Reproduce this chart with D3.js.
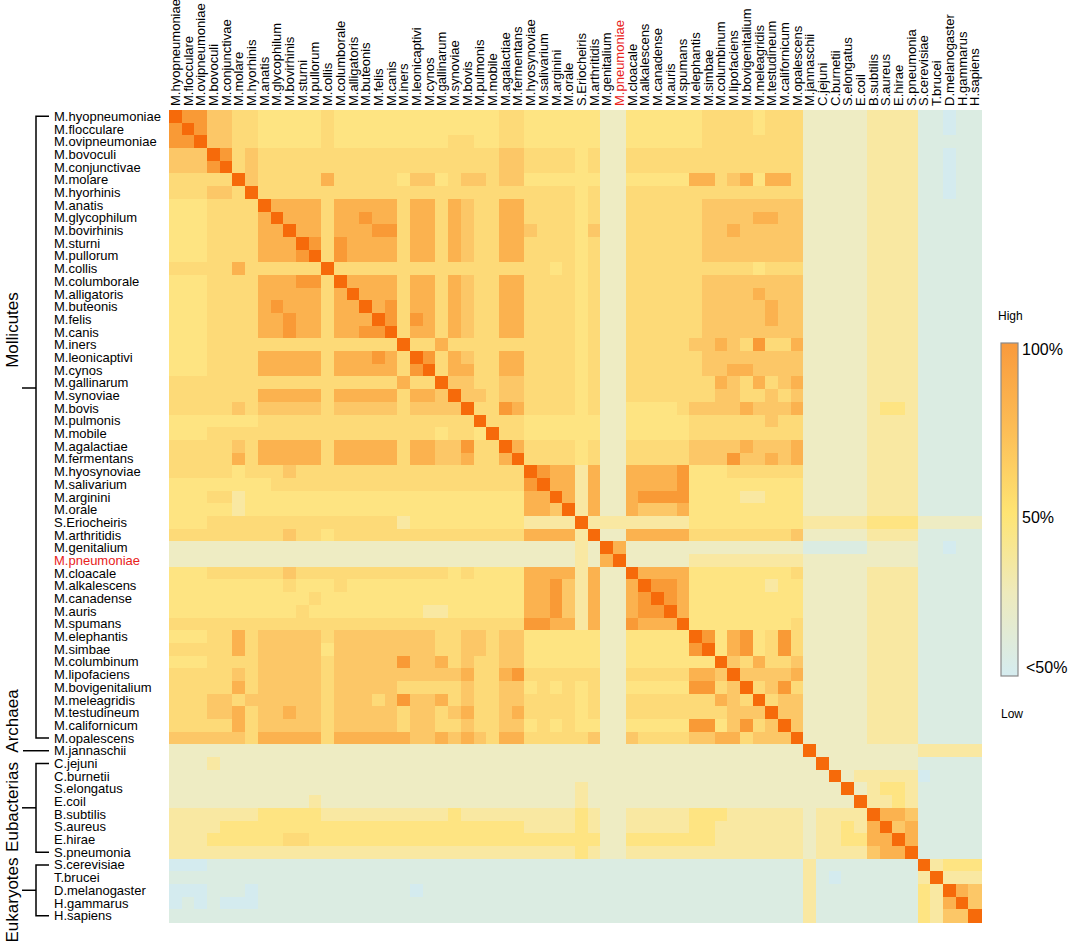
<!DOCTYPE html>
<html>
<head>
<meta charset="utf-8">
<script src="https://cdn.jsdelivr.net/npm/d3@7"></script>
<style>
  body { margin: 0; background: #fff; }
  text { font-family: "Liberation Sans", Arial, sans-serif; fill: #000; }
</style>
</head>
<body>
<script>
// species, in the order used for both axes
var species = [
  'M.hyopneumoniae', 'M.flocculare', 'M.ovipneumoniae', 'M.bovoculi', 'M.conjunctivae', 'M.molare',
  'M.hyorhinis', 'M.anatis', 'M.glycophilum', 'M.bovirhinis', 'M.sturni', 'M.pullorum', 'M.collis',
  'M.columborale', 'M.alligatoris', 'M.buteonis', 'M.felis', 'M.canis', 'M.iners', 'M.leonicaptivi',
  'M.cynos', 'M.gallinarum', 'M.synoviae', 'M.bovis', 'M.pulmonis', 'M.mobile', 'M.agalactiae',
  'M.fermentans', 'M.hyosynoviae', 'M.salivarium', 'M.arginini', 'M.orale', 'S.Eriocheiris',
  'M.arthritidis', 'M.genitalium', 'M.pneumoniae', 'M.cloacale', 'M.alkalescens', 'M.canadense',
  'M.auris', 'M.spumans', 'M.elephantis', 'M.simbae', 'M.columbinum', 'M.lipofaciens',
  'M.bovigenitalium', 'M.meleagridis', 'M.testudineum', 'M.californicum', 'M.opalescens',
  'M.jannaschii', 'C.jejuni', 'C.burnetii', 'S.elongatus', 'E.coil', 'B.subtilis', 'S.aureus',
  'E.hirae', 'S.pneumonia', 'S.cerevisiae', 'T.brucei', 'D.melanogaster', 'H.gammarus', 'H.sapiens'
];

var highlighted = ['M.pneumoniae'];

var groups = [
  { name: 'Mollicutes', first: 0, last: 49 },
  { name: 'Archaea', first: 50, last: 50 },
  { name: 'Eubacterias', first: 51, last: 58 },
  { name: 'Eukaryotes', first: 59, last: 63 }
];

// similarity level per cell, 0 (<50%) .. 9 (100%), one string per row, 8 columns per block
var similarity = [
  '98866554 44445444 44444444 44554444 44224444 44555545 55222223 33311011',
  '89866554 44445444 44444444 44554444 44224444 44555545 55222223 33311011',
  '88966554 44445444 44444455 44554444 44224444 44555555 55222223 33311111',
  '66698565 55555555 55555555 55665555 45225555 55555555 55222223 33311011',
  '66689565 55555555 55555555 55665555 45225555 55555555 55222223 33311011',
  '55555965 55557555 55466456 65664444 44224444 47756747 75222223 33311011',
  '55566595 55555555 55555555 55555555 45225555 55555555 55222223 33311011',
  '44455559 77775777 77577576 55775555 45225555 55666666 66222223 33311111',
  '44455557 97775778 77577576 55775555 45225555 55666677 66222223 33311111',
  '44455557 79775777 88577576 55776555 46225555 55667666 66222223 33311111',
  '44455557 77985877 77577576 55775555 45225555 55666666 66222223 33311111',
  '44455557 77895877 77577576 55775555 45225555 55666666 66222223 33311111',
  '55555755 55559555 55555555 55555545 45225555 55555545 55222223 33311111',
  '44455557 77885977 77577576 55775555 45225555 55666666 66222223 33311111',
  '44455557 77775797 77577576 55775555 45225555 55666676 66222223 33311111',
  '44455557 87775779 78577576 55775555 45225555 55666667 66222223 33311111',
  '44455557 78775777 98587576 55775555 45225555 55666667 66222223 33311111',
  '44455557 78775778 89577576 55775555 45225555 55666666 66222223 33311111',
  '44455555 55555555 55955755 55555555 45225555 56676585 57222223 33311111',
  '44455557 77775777 87598576 55775555 45225555 55666666 66222223 33311111',
  '44455557 77775777 77589577 55775555 45225555 55667766 66222223 33311111',
  '55555555 55555555 55755966 55665555 45225555 55576575 67222223 33311111',
  '55555557 77775777 77577696 65665555 45225555 55566556 56222223 33311111',
  '55555656 66665666 66566669 55875555 45224444 56666766 67222223 44311111',
  '44444445 55555555 55555555 95554444 44224444 45555556 55222223 33311111',
  '44455555 55555555 55555455 49554444 44224444 45555555 55222223 33311111',
  '55555657 77775777 77577668 55975555 45225555 56666766 67222223 33311111',
  '55555757 77775777 77577667 55795555 45225555 56668667 67222223 33311111',
  '55555455 56555555 55555555 55559877 37227777 84445555 55222223 33311111',
  '44444444 55555555 55555555 55558977 37227777 84444444 44222223 33311111',
  '44455344 44444444 44444444 44447797 37227888 84444334 44222223 33311111',
  '44444344 44444444 44444444 44447769 37227666 74444444 44222223 33311111',
  '44455555 55555555 55344444 44443333 93333333 34444444 44333334 44422222',
  '55555555 56554555 55555555 55557777 39227777 75555555 56222223 33311111',
  '22222222 22222222 22222222 22222222 32972222 22222222 22111112 22211011',
  '22222222 22222222 22222222 22222222 32792222 23333333 33222222 22211111',
  '44455555 56555555 55555545 44447777 37229777 74444444 45222223 33311111',
  '44444444 45444544 44444444 44447786 37227988 74444443 44222223 33311111',
  '44444444 44454444 44444444 44447786 37227898 74444444 44222223 33311111',
  '44444444 44544444 44443344 44447786 37227889 74444444 44222223 33311111',
  '55555555 55555555 55555555 55558877 37228777 94444444 45222223 33311111',
  '44455756 66665666 66666556 65664444 44224444 49847845 85222223 33311111',
  '55555756 66664666 66666556 65664444 44224444 48947845 85222223 33311111',
  '44455556 66665666 66866756 55664444 44224444 44496575 56222223 33311111',
  '55555656 66665666 66666667 55785555 55225555 57769666 67222223 33311111',
  '55555756 66665666 66555556 55664545 45224444 48856956 85222223 33311111',
  '55566566 66665666 56866756 55665555 45225555 55576595 66222223 33311111',
  '55566756 67665666 66566567 55675555 45225555 55556669 66222223 33311111',
  '55555756 66665666 66566556 55664545 44224444 48846856 96222223 33311111',
  '66666657 77775777 77766767 65775555 56226555 56677566 69222223 33311111',
  '22222222 22222222 22222222 22222222 22222222 22222222 22922222 22233333',
  '22232222 22222222 22222222 22222222 22222222 22222222 22292222 22211111',
  '22222222 22222222 22222222 22222222 22222222 22222222 22229233 33301111',
  '22222222 22222222 22222222 22222222 32222222 22222222 22222923 44311111',
  '22222222 22232222 22222222 22222222 32222222 22222222 22222293 34311111',
  '33333334 44443333 33333343 33333333 43223333 34443333 33233339 77611111',
  '33334444 44444444 44444444 44443333 43223333 34433333 33233437 96711111',
  '33344444 45544444 44444444 44444444 44224444 44433333 33233447 79711111',
  '33333333 33333333 33333333 33333333 43223333 33333333 33233336 77911111',
  '00011111 11111111 11111111 11111111 11111111 11111111 11311111 11193444',
  '11111111 11111111 11111111 11111111 11111111 11111111 11310111 11139333',
  '00011101 11111111 11101111 11111111 11111111 11111111 11311111 11143976',
  '01010001 11111111 11111111 11111111 11111111 11111111 11311111 11143796',
  '11111111 11111111 11111111 11111111 11111111 11111111 11311111 11143669'
];

var legendTicks = ['100%', '50%', '<50%'];

(function() {
    var cells = [];
    similarity.forEach(function(row, i) {
        row.replace(/ /g, '').split('').forEach(function(ch, j) {
            cells.push({ row: i, col: j, level: +ch });
        });
    });

    var svg = d3.select('body').append('svg')
            .attr('width', 1072)
            .attr('height', 944),
        mLeft = 169,
        mTop = 110,
        size = 812,
        xScale = d3.scaleBand().domain(d3.range(species.length)).range([mLeft, mLeft + size]),
        yScale = d3.scaleBand().domain(d3.range(species.length)).range([mTop, mTop + size]),
        bw = xScale.bandwidth(),
        cScale = d3.scaleLinear()
            .domain(d3.range(10))
            .range(['#d4ebef', '#dbece2', '#eeecc3', '#f9e8a2', '#fee482',
                    '#fdda78', '#fcc767', '#fbb24f', '#f99a36', '#f66a0a']),
        labelColor = function(d) { return highlighted.indexOf(d) >= 0 ? '#e8221b' : '#000'; };

    // heatmap cells
    svg.append('g')
        .attr('shape-rendering', 'crispEdges')
        .selectAll('rect')
        .data(cells)
        .enter()
        .append('rect')
        .attr('x', function(d) { return xScale(d.col); })
        .attr('y', function(d) { return yScale(d.row); })
        .attr('width', bw + 0.6)
        .attr('height', bw + 0.6)
        .attr('fill', function(d) { return cScale(d.level); });

    // column labels (rotated)
    svg.append('g')
        .selectAll('text')
        .data(species)
        .enter()
        .append('text')
        .attr('transform', function(d, i) { return 'translate(' + (xScale(i) + bw / 2) + ',' + (mTop - 4) + ') rotate(-90)'; })
        .attr('dy', '0.35em')
        .style('font-size', '13px')
        .style('fill', labelColor)
        .text(function(d) { return d; });

    // row labels
    svg.append('g')
        .selectAll('text')
        .data(species)
        .enter()
        .append('text')
        .attr('x', 54)
        .attr('y', function(d, i) { return yScale(i) + bw / 2; })
        .attr('dy', '0.35em')
        .style('font-size', '13px')
        .style('fill', labelColor)
        .text(function(d) { return d; });

    // group brackets
    var labelCenter = { Mollicutes: 330, Archaea: 721, Eubacterias: 807, Eukaryotes: 900 },
        tickAt = { Mollicutes: 388 },
        brackets = svg.append('g')
            .attr('stroke', '#000')
            .attr('stroke-width', 1.5)
            .attr('fill', 'none');

    groups.forEach(function(g) {
        var y1 = yScale(g.first) + bw / 2,
            y2 = yScale(g.last) + bw / 2,
            ym = tickAt[g.name] || (y1 + y2) / 2;

        if (g.first === g.last) {
            brackets.append('path').attr('d', 'M23,' + y1 + 'H49');
        } else {
            brackets.append('path').attr('d', 'M49,' + y1 + 'H36V' + y2 + 'H49');
            brackets.append('path').attr('d', 'M22,' + ym + 'H36');
        }

        svg.append('text')
            .attr('transform', 'translate(12,' + labelCenter[g.name] + ') rotate(-90)')
            .attr('dy', '0.35em')
            .style('font-size', '17px')
            .style('text-anchor', 'middle')
            .text(g.name);
    });

    // legend
    var grad = svg.append('defs').append('linearGradient')
        .attr('id', 'lg')
        .attr('x1', 0).attr('y1', 0)
        .attr('x2', 0).attr('y2', 1);

    grad.selectAll('stop')
        .data([[0, '#f99a3c'], [0.25, '#fcbc55'], [0.51, '#fee473'], [0.75, '#eeeabc'], [1, '#d5ecf0']])
        .enter()
        .append('stop')
        .attr('offset', function(d) { return d[0]; })
        .attr('stop-color', function(d) { return d[1]; });

    svg.append('rect')
        .attr('x', 1001)
        .attr('y', 343)
        .attr('width', 17)
        .attr('height', 333)
        .attr('fill', 'url(#lg)')
        .attr('stroke', '#8a8a8a')
        .attr('stroke-width', 1.2);

    var lScale = d3.scalePoint().domain(legendTicks).range([349, 667]);
    lScale.domain().forEach(function(t, i) {
        svg.append('text')
            .attr('x', i === 2 ? 1026 : 1022)
            .attr('y', i === 1 ? 517 : lScale(t))
            .attr('dy', '0.35em')
            .style('font-size', '16px')
            .text(t);
    });

    svg.append('text').attr('x', 998).attr('y', 320).style('font-size', '12px').text('High');
    svg.append('text').attr('x', 1001).attr('y', 718).style('font-size', '12px').text('Low');
})();
</script>
</body>
</html>
